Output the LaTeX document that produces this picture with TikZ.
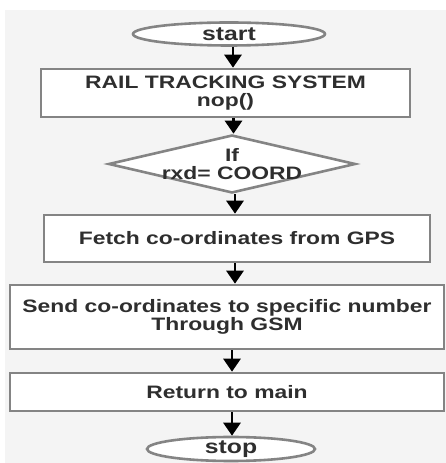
\documentclass[tikz,border=0pt]{standalone}
\usepackage{fontspec}
\setmainfont[FakeStretch=1.27]{Liberation Sans}
\usetikzlibrary{shapes.geometric,arrows.meta}
\definecolor{bggray}{HTML}{F4F4F4}
\definecolor{edgegray}{HTML}{848484}
\definecolor{txt}{HTML}{2E2E2E}
\tikzset{
  x=1pt,y=1pt,
  base/.style={draw=edgegray,line width=2.6pt,fill=white,inner sep=0pt,
    text=txt,font=\fontsize{18}{18}\selectfont\bfseries,align=center},
  term/.style={base,ellipse,font=\fontsize{19.5}{19.5}\selectfont\bfseries},
  proc/.style={base,rectangle},
  decide/.style={base,diamond},
  flow/.style={draw=black,line width=2.8pt,-{Triangle[width=17pt,length=13pt]}},
}
\begin{document}
\begin{tikzpicture}
\useasboundingbox (0,0) rectangle (446,463);
\fill[white] (0,0) rectangle (446,463);
\fill[bggray] (5,0) rectangle (446,453);
\node[term,minimum width=192,minimum height=23] (start) at (229,429) {start};
\node[proc,minimum width=369,minimum height=48] (rail) at (225.5,370) {RAIL TRACKING SYSTEM\\nop()};
\node[decide,minimum width=247,minimum height=58,
  label={[text=txt,font=\fontsize{18}{18}\selectfont\bfseries,align=center]center:If\\rxd= COORD}] (dec) at (232,299) {};
\node[proc,minimum width=386,minimum height=47] (fetch) at (237,224.5) {Fetch co-ordinates from GPS};
\node[proc,minimum width=434,minimum height=64] (send) at (227,146) {Send co-ordinates to specific number\\Through GSM};
\node[proc,minimum width=434,minimum height=38] (ret) at (227,71) {Return to main};
\node[term,minimum width=168,minimum height=24] (stop) at (231,14) {stop};
\draw[flow] ([xshift=4pt]start.south) -- ([xshift=4pt]start.south |- rail.north);
\draw[flow] ([xshift=8pt]rail.south) -- ([xshift=8pt]rail.south |- dec.north);
\draw[flow] ([xshift=3pt]dec.south) -- ([xshift=3pt]dec.south |- fetch.north);
\draw[flow] ([xshift=-2pt]fetch.south) -- ([xshift=-2pt]fetch.south |- send.north);
\draw[flow] ([xshift=5pt]send.south) -- ([xshift=5pt]send.south |- ret.north);
\draw[flow] ([xshift=5pt]ret.south) -- ([xshift=5pt]ret.south |- stop.north);
\end{tikzpicture}
\end{document}
